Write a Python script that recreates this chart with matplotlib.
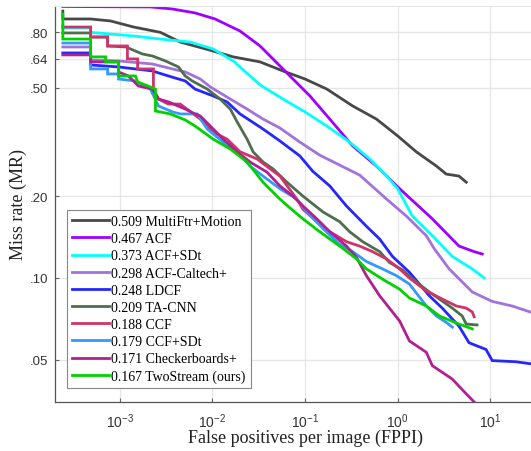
"""
Caltech 歩行者検出 MR-FPPI 曲線の再現
"""
import matplotlib
matplotlib.use("Agg")
import matplotlib.pyplot as plt
from matplotlib.ticker import FixedLocator, FixedFormatter, NullLocator

plt.rcParams['mathtext.default'] = 'regular'

# 凡例の表示順 (log-average miss rate 付き)
labels = [
    "0.509 MultiFtr+Motion",
    "0.467 ACF",
    "0.373 ACF+SDt",
    "0.298 ACF-Caltech+",
    "0.248 LDCF",
    "0.209 TA-CNN",
    "0.188 CCF",
    "0.179 CCF+SDt",
    "0.171 Checkerboards+",
    "0.167 TwoStream (ours)",
]
colors = ['#484848', '#a000ff', '#00ffff', '#a273dc', '#2626ff',
          '#4e6e4e', '#d0336a', '#3399ff', '#b0208f', '#00d200']

# 各手法の (FPPI, MR) 点列
multiftr_fppi = [2.43e-4, 2.43e-4, 4.85e-4, 7.96e-4, 1.41e-3, 2.75e-3, 4.5e-3, 0.0102, 0.0168,
                 0.0327, 0.0578, 0.1, 0.172, 0.327, 0.59, 1.0, 1.59, 2.62, 3.35, 4.6, 5.5]
multiftr_mr = [0.958, 0.896, 0.896, 0.881, 0.837, 0.80, 0.737, 0.683, 0.65,
               0.623, 0.577, 0.539, 0.495, 0.429, 0.384, 0.333, 0.291, 0.258, 0.241, 0.237, 0.225]

acf_fppi = [2.43e-4, 2.14e-3, 3.7e-3, 6.5e-3, 0.0107, 0.0199, 0.0327, 0.0607, 0.113,
            0.185, 0.327, 0.59, 1.05, 2.37, 4.6, 6.7, 8.2]
acf_mr = [0.996, 0.992, 0.975, 0.943, 0.896, 0.809, 0.713, 0.577, 0.467,
          0.384, 0.306, 0.258, 0.213, 0.165, 0.131, 0.125, 0.1225]

acfsdt_fppi = [2.43e-4, 2.43e-4, 4.85e-4, 4.85e-4, 1.41e-3, 2.75e-3, 5.8e-3, 0.0102, 0.0168,
               0.0327, 0.0578, 0.1, 0.172, 0.303, 0.50, 0.76, 1.0, 1.44, 2.37, 3.89, 6.4, 8.6]
acfsdt_mr = [0.851, 0.83, 0.83, 0.80, 0.776, 0.756, 0.737, 0.695, 0.628,
             0.513, 0.455, 0.408, 0.362, 0.316, 0.274, 0.237, 0.213, 0.169, 0.143, 0.12, 0.108, 0.10]

caltech_fppi = [2.43e-4, 4.85e-4, 4.85e-4, 9.7e-4, 2.25e-3, 3.7e-3, 5.1e-3, 7.4e-3, 9.5e-3,
                0.0156, 0.0237, 0.0352, 0.0536, 0.088, 0.144, 0.237, 0.389, 0.76, 1.24,
                2.04, 2.49, 3.6, 6.4, 10.5, 17.2, 27, 35]
caltech_mr = [0.707, 0.707, 0.633, 0.628, 0.612, 0.587, 0.572, 0.539, 0.504,
              0.455, 0.418, 0.384, 0.356, 0.316, 0.283, 0.260, 0.239, 0.195, 0.169,
              0.143, 0.128, 0.108, 0.0888, 0.082, 0.0789, 0.075, 0.074]

ldcf_fppi = [2.43e-4, 4.85e-4, 4.85e-4, 9.7e-4, 2.25e-3, 3.35e-3, 5.1e-3, 6.5e-3, 0.0102,
             0.0144, 0.0199, 0.0352, 0.0536, 0.088, 0.121, 0.185, 0.28, 0.46, 0.64, 0.88,
             1.34, 2.2, 3.03, 4.6, 5.9, 9.0, 10.5, 19, 27, 35]
ldcf_mr = [0.672, 0.672, 0.607, 0.597, 0.577, 0.553, 0.53, 0.495, 0.467,
           0.444, 0.401, 0.353, 0.319, 0.281, 0.247, 0.218, 0.184, 0.155, 0.139, 0.12,
           0.105, 0.086, 0.0775, 0.0665, 0.0578, 0.0546, 0.0497, 0.0492, 0.0484, 0.0484]

tacnn_fppi = [2.43e-4, 4.85e-4, 4.85e-4, 7.4e-4, 7.4e-4, 1.16e-3, 1.76e-3, 2.25e-3, 3.11e-3,
              4.3e-3, 5.1e-3, 6.07e-3, 8.8e-3, 0.0121, 0.0156, 0.0185, 0.0237, 0.0275,
              0.0352, 0.0451, 0.0638, 0.095, 0.156, 0.237, 0.303, 0.419, 0.64, 0.817,
              1.13, 1.59, 2.2, 2.82, 3.89, 4.98, 5.5, 7.2]
tacnn_mr = [0.796, 0.796, 0.769, 0.769, 0.713, 0.707, 0.666, 0.655, 0.628,
            0.597, 0.553, 0.53, 0.495, 0.455, 0.418, 0.375, 0.324, 0.291,
            0.267, 0.252, 0.225, 0.20, 0.175, 0.161, 0.148, 0.136, 0.125, 0.114,
            0.107, 0.0967, 0.0888, 0.0837, 0.0775, 0.0725, 0.0677, 0.0672]

ccf_fppi = [2.43e-4, 4.85e-4, 4.85e-4, 7.4e-4, 7.4e-4, 1.21e-3, 1.21e-3, 1.56e-3, 1.56e-3,
            2.31e-3, 2.31e-3, 2.62e-3, 3.35e-3, 4.5e-3, 7.4e-3, 0.0102, 0.0144, 0.0199,
            0.0303, 0.042, 0.0536, 0.0817, 0.095, 0.134, 0.185, 0.28, 0.389, 0.536,
            0.76, 1.05, 1.34, 2.04, 3.03, 4.3, 5.5, 6.4, 6.7]
ccf_mr = [0.837, 0.837, 0.769, 0.769, 0.713, 0.713, 0.639, 0.639, 0.587,
          0.587, 0.495, 0.455, 0.436, 0.436, 0.384, 0.344, 0.324, 0.291,
          0.274, 0.252, 0.237, 0.195, 0.179, 0.161, 0.148, 0.136, 0.131, 0.125,
          0.1175, 0.108, 0.10, 0.0896, 0.0837, 0.0789, 0.0775, 0.075, 0.072]

ccfsdt_fppi = [2.43e-4, 4.85e-4, 4.85e-4, 7.4e-4, 7.4e-4, 9.7e-4, 9.7e-4, 1.48e-3, 2.14e-3,
               2.62e-3, 3.7e-3, 4.5e-3, 6.87e-3, 8.8e-3, 0.0131, 0.0185, 0.0255, 0.0352,
               0.0536, 0.0817, 0.105, 0.156, 0.237, 0.327, 0.46, 0.687, 0.97, 1.34,
               2.04, 2.62, 3.35, 3.89]
ccfsdt_mr = [0.731, 0.731, 0.587, 0.587, 0.5625, 0.5625, 0.539, 0.53, 0.495,
             0.429, 0.408, 0.401, 0.401, 0.353, 0.316, 0.291, 0.258, 0.237,
             0.213, 0.195, 0.175, 0.152, 0.133, 0.125, 0.115, 0.108, 0.102, 0.095,
             0.0789, 0.0725, 0.0687, 0.066]

checker_fppi = [2.43e-4, 4.85e-4, 4.85e-4, 9.7e-4, 9.7e-4, 1.24e-3, 1.59e-3, 2.25e-3, 2.62e-3,
                3.35e-3, 5.1e-3, 6.5e-3, 7.4e-3, 0.0102, 0.0131, 0.0185, 0.0255, 0.0389,
                0.0536, 0.074, 0.095, 0.134, 0.185, 0.28, 0.36, 0.46, 0.64, 1.05, 1.34,
                2.04, 2.37, 3.89, 5.5, 7.0]
checker_mr = [0.661, 0.661, 0.623, 0.623, 0.572, 0.553, 0.508, 0.495, 0.455,
              0.444, 0.418, 0.401, 0.394, 0.353, 0.324, 0.291, 0.267, 0.245,
              0.218, 0.20, 0.184, 0.165, 0.148, 0.131, 0.119, 0.102, 0.086, 0.0695, 0.0587,
              0.0533, 0.0476, 0.0425, 0.0375, 0.0345]

twostream_fppi = [2.43e-4, 2.43e-4, 4.85e-4, 4.85e-4, 7.05e-4, 7.05e-4, 9.7e-4, 9.7e-4, 1.48e-3,
                  1.56e-3, 2.43e-3, 2.43e-3, 3.52e-3, 5.1e-3, 6.5e-3, 8.0e-3, 0.0102, 0.0156,
                  0.0237, 0.0352, 0.0536, 0.0687, 0.095, 0.144, 0.237, 0.36, 0.46, 0.687,
                  1.05, 1.34, 2.04, 2.82, 4.6, 6.4]
twostream_mr = [0.935, 0.756, 0.756, 0.65, 0.65, 0.623, 0.623, 0.553, 0.553,
                0.526, 0.495, 0.411, 0.401, 0.381, 0.362, 0.344, 0.324, 0.298,
                0.267, 0.225, 0.195, 0.181, 0.165, 0.148, 0.131, 0.1175, 0.108, 0.099,
                0.091, 0.0844, 0.0789, 0.0725, 0.0677, 0.065]

curves = [
    (multiftr_fppi, multiftr_mr),
    (acf_fppi, acf_mr),
    (acfsdt_fppi, acfsdt_mr),
    (caltech_fppi, caltech_mr),
    (ldcf_fppi, ldcf_mr),
    (tacnn_fppi, tacnn_mr),
    (ccf_fppi, ccf_mr),
    (ccfsdt_fppi, ccfsdt_mr),
    (checker_fppi, checker_mr),
    (twostream_fppi, twostream_mr),
]

y_ticks = [0.05, 0.10, 0.20, 0.50, 0.64, 0.80]
y_tick_labels = ['.05', '.10', '.20', '.50', '.64', '.80']
x_ticks = [1e-3, 1e-2, 1e-1, 1e0, 1e1]
x_tick_labels = ['$10^{-3}$', '$10^{-2}$', '$10^{-1}$', '$10^{0}$', '$10^{1}$']

fig = plt.figure(figsize=(5.31, 4.52), dpi=100)
# 元画像は右側が切れているので軸を図の外まで伸ばす
ax = fig.add_axes([55 / 531, 49 / 452, 500 / 531, 396 / 452])

for (fx, my), lab, col in zip(curves, labels, colors):
    ax.plot(fx, my, color=col, lw=2.0, label=lab, solid_joinstyle='miter')

ax.set_xscale('log')
ax.set_yscale('log')
ax.set_xlim(2e-4, 50)
ax.set_ylim(0.035, 1.0)

ax.xaxis.set_major_locator(FixedLocator(x_ticks))
ax.xaxis.set_major_formatter(FixedFormatter(x_tick_labels))
ax.xaxis.set_minor_locator(NullLocator())
ax.yaxis.set_major_locator(FixedLocator(y_ticks))
ax.yaxis.set_major_formatter(FixedFormatter(y_tick_labels))
ax.yaxis.set_minor_locator(NullLocator())

ax.grid(True, color='#e6e6e6', lw=0.9)
ax.set_axisbelow(True)
ax.tick_params(direction='in', length=3, color='#666666', labelcolor='#333333')
ax.tick_params(axis='x', labelsize=10, pad=7)
ax.tick_params(axis='y', labelsize=9.5, pad=5)
for t in ax.get_xticklabels() + ax.get_yticklabels():
    t.set_family('Liberation Sans')

for s in ['left', 'bottom']:
    ax.spines[s].set_color('#555555')
    ax.spines[s].set_linewidth(0.9)
ax.spines['top'].set_color('#e6e6e6')
ax.spines['right'].set_visible(False)

ax.set_xlabel('False positives per image (FPPI)', family='Liberation Serif',
              fontsize=13, color='#222222', labelpad=-1)
ax.set_ylabel('Miss rate (MR)', family='Liberation Serif',
              fontsize=13, color='#222222', labelpad=2)

leg = ax.legend(loc='lower left', bbox_to_anchor=(12 / 500, 14 / 396),
                borderaxespad=0, prop={'family': 'Liberation Serif', 'size': 10},
                handlelength=2.7, handletextpad=0.15, labelspacing=0.3,
                borderpad=0.35, fancybox=False, framealpha=1)
leg.get_frame().set_edgecolor('#888888')
leg.get_frame().set_linewidth(0.8)

fig.savefig('out.png', dpi=100)
